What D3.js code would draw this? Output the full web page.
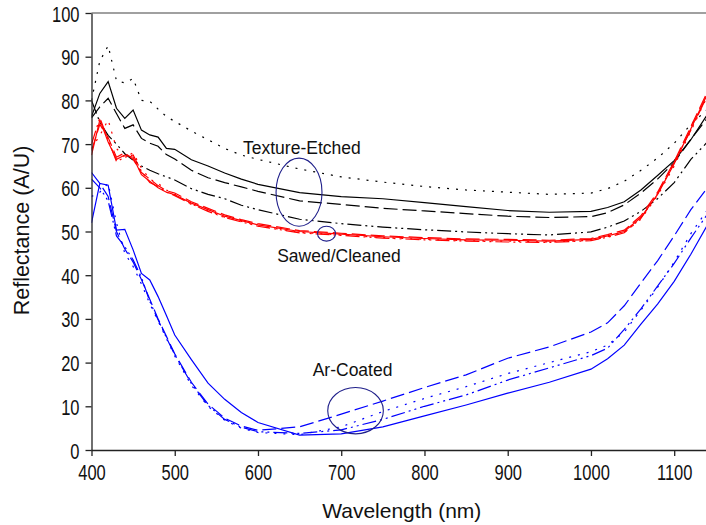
<!DOCTYPE html>
<html>
<head>
<meta charset="utf-8">
<script src="https://cdn.jsdelivr.net/npm/d3@7.9.0/dist/d3.min.js"></script>
<style>
  body { margin: 0; background: #fff; }
  svg { display: block; font-family: 'Liberation Sans', Arial, sans-serif; }
</style>
</head>
<body>
<svg id="chart" width="706" height="525"></svg>
<script>
// Wavelength samples (nm), shared by all series
const wavelengths = [400, 410, 420, 430, 440, 450, 460, 470, 480, 490, 500, 520, 540, 560, 580, 600,
  650, 700, 750, 800, 850, 900, 950, 1000, 1020, 1040, 1060, 1080, 1100, 1120, 1140];

// Texture-Etched (black)
const etchedSolid = [76.3, 81.6, 84.3, 78.2, 75.9, 77.8, 73.2, 72.1, 71.6, 69, 68.8, 66.4, 65, 63.4, 62, 60.8,
  58.9, 58, 57.5, 56.6, 55.7, 54.8, 54.4, 54.6, 55.5, 56.8, 59.5, 62.8, 66.2, 71, 76.8];
const etchedDash = [76, 78.5, 80.5, 77, 73.6, 74.4, 71.3, 70.2, 69.5, 67.6, 66.6, 64, 62.3, 61.2, 60.2, 59.2,
  57, 56.2, 55.3, 54.7, 54.1, 53.5, 53.2, 53.4, 54.3, 56.1, 58.8, 62, 65.8, 71.1, 76];
const etchedDot = [80, 89, 92.5, 84.5, 84, 85, 80, 79.8, 78, 76.3, 75.2, 73, 71, 69, 67.5, 66.5,
  64.3, 62.5, 61.3, 60.3, 59.5, 59, 58.5, 58.8, 59.8, 61.5, 64, 66.8, 70.2, 74.5, 78];
const etchedDashDot = [80, 75, 72, 70, 67.8, 66.3, 65, 64, 63.2, 62.5, 61.8, 59.8, 58.5, 57.5, 56, 55,
  52.8, 51.8, 51, 50.4, 49.9, 49.5, 49.2, 49.9, 51, 52.4, 54.6, 57.5, 61.2, 66.5, 70.5];

// Sawed/Cleaned (red)
const sawedSolid = [67.5, 75.5, 70.5, 66.5, 67.5, 67, 63, 61.5, 60, 59, 58.4, 56.5, 55, 53.5, 52.5, 51.5,
  50, 49.4, 48.8, 48.4, 48.1, 48, 47.8, 48.2, 49, 50, 53.2, 58.5, 65.5, 73.5, 81.5];
const sawedDash = [68.5, 74.5, 71.5, 67, 68, 66.5, 63.5, 62, 60.5, 59.3, 58.8, 56.8, 55.3, 53.8, 52.7, 51.8,
  50.2, 49.6, 49, 48.6, 48.3, 48.2, 48, 48.4, 49.3, 50.3, 53.6, 59, 66, 74, 82];
const sawedDot = [69, 72, 75.5, 69, 67, 68, 64.5, 62, 61, 59.5, 58.5, 56.2, 54.8, 53.3, 52.3, 51.3,
  49.8, 49.2, 48.6, 48.2, 47.9, 47.8, 47.6, 48, 48.8, 49.8, 52.8, 58.2, 65, 73, 81];
const sawedDashDot = [70, 76, 71, 66, 67, 67.5, 63.8, 61.2, 60.3, 59, 58.2, 56.3, 54.6, 53.2, 52.2, 51.2,
  49.7, 49.1, 48.5, 48.1, 47.8, 47.6, 47.5, 47.9, 48.7, 49.7, 53, 58.6, 65.8, 73.2, 81.2];

// Ar-Coated (blue)
const coatedSolid = [52, 61, 60.6, 50.3, 50.5, 45.8, 40.4, 38.9, 35.1, 30.8, 26.3, 20.7, 15.3, 11.6, 8.6, 6.3,
  3.4, 3.7, 5.3, 7.8, 10.3, 13, 15.5, 18.5, 20.9, 24, 28.8, 33.4, 38.6, 44.8, 51.5];
const coatedDash = [63.5, 61, 58, 50, 46, 43, 39, 34.5, 30, 26, 22, 15.5, 10.5, 7.3, 5.5, 4.5,
  5.3, 8.2, 11.2, 14.3, 17.2, 21, 23.6, 27, 29.1, 33, 38.2, 43.3, 49, 55, 60];
const coatedDot = [58, 59, 61, 52, 45, 42, 38, 33.5, 29.5, 25.5, 21.5, 14.8, 10, 6.8, 5, 4,
  3.5, 5.3, 8.8, 11.8, 14.5, 17.5, 20, 22.5, 24, 27, 32, 37.2, 43, 49.5, 55];
const coatedDashDot = [62, 60, 57, 49, 46.5, 43.5, 39.5, 34, 29.8, 25.7, 21.8, 15.2, 10.2, 7, 5.2, 4.2,
  3.8, 4.6, 7, 10, 12.6, 16, 18.8, 21.6, 23.3, 27.6, 32.3, 37.5, 42.7, 48.5, 54];

// Axis ticks
const xTicks = [400, 500, 600, 700, 800, 900, 1000, 1100];
const yTicks = [0, 10, 20, 30, 40, 50, 60, 70, 80, 90, 100];

// Group labels and the circles that mark them (data units)
const labels = [
  { text: 'Texture-Etched', x: 582, y: 67.7 },
  { text: 'Sawed/Cleaned', x: 623, y: 43.1 },
  { text: 'Ar-Coated', x: 665.7, y: 17.0 },
];
const rings = [
  { x: 649.3, y: 59.0, rx: 27.6, ry: 7.8 },
  { x: 682.3, y: 49.5, rx: 10.8, ry: 1.7 },
  { x: 717.2, y: 9.0, rx: 33.4, ry: 5.3 },
];

// line styles
const dashes = {
  solid: null,
  dash: '14,5',
  dot: '2,7',
  dashdot: '14,4,2,4,2,4',
};

const series = [
  { values: etchedDot, color: '#000', dash: 'dot' },
  { values: etchedSolid, color: '#000', dash: 'solid' },
  { values: etchedDash, color: '#000', dash: 'dash' },
  { values: etchedDashDot, color: '#000', dash: 'dashdot' },
  { values: sawedSolid, color: '#ff0000', dash: 'solid' },
  { values: sawedDash, color: '#ff0000', dash: 'dash' },
  { values: sawedDot, color: '#ff0000', dash: 'dot' },
  { values: sawedDashDot, color: '#ff0000', dash: 'dashdot' },
  { values: coatedSolid, color: '#0000ff', dash: 'solid' },
  { values: coatedDash, color: '#0000ff', dash: 'dash' },
  { values: coatedDot, color: '#0000ff', dash: 'dot' },
  { values: coatedDashDot, color: '#0000ff', dash: 'dashdot' },
];

const svg = d3.select('#chart');

const plotLeft = 91.5, plotRight = 707.5, plotTop = 13, plotBottom = 450;

const x = d3.scaleLinear().domain([400, 1140]).range([plotLeft, plotRight]);
const y = d3.scaleLinear().domain([0, 100]).range([plotBottom, plotTop]);

svg.append('defs').append('clipPath').attr('id', 'plot')
  .append('rect')
  .attr('x', plotLeft).attr('y', 0)
  .attr('width', 706 - plotLeft).attr('height', plotBottom);

// top frame line
svg.append('line')
  .attr('x1', plotLeft).attr('x2', 706)
  .attr('y1', plotTop).attr('y2', plotTop)
  .attr('stroke', '#808080').attr('stroke-width', 1.3);

// curves
const line = d3.line()
  .x((d, i) => x(wavelengths[i]))
  .y(d => y(d));

svg.append('g').attr('clip-path', 'url(#plot)')
  .selectAll('path')
  .data(series)
  .join('path')
  .attr('d', d => line(d.values))
  .attr('fill', 'none')
  .attr('stroke', d => d.color)
  .attr('stroke-width', 1.2)
  .attr('stroke-dasharray', d => dashes[d.dash]);

// rings around the groups
svg.append('g')
  .selectAll('ellipse')
  .data(rings)
  .join('ellipse')
  .attr('cx', d => x(d.x))
  .attr('cy', d => y(d.y))
  .attr('rx', d => x(400 + d.rx) - x(400))
  .attr('ry', d => y(0) - y(d.ry))
  .attr('fill', 'none')
  .attr('stroke', '#1f1f8a')
  .attr('stroke-width', 1.1);

svg.append('g')
  .selectAll('text')
  .data(labels)
  .join('text')
  .attr('x', d => x(d.x))
  .attr('y', d => y(d.y))
  .attr('font-size', 17.5)
  .attr('fill', '#111')
  .text(d => d.text);

// axes
const xAxis = svg.append('g')
  .attr('transform', `translate(0,${plotBottom})`)
  .call(d3.axisBottom(x).tickValues(xTicks).tickFormat(d3.format('d')).tickSize(6).tickSizeOuter(0));
xAxis.select('.domain').attr('d', `M${plotLeft},0.5H706`);

const yAxis = svg.append('g')
  .attr('transform', `translate(${plotLeft},0)`)
  .call(d3.axisLeft(y).tickValues(yTicks).tickSize(6).tickSizeOuter(0));

[xAxis, yAxis].forEach(g => {
  g.select('.domain').attr('stroke', '#222').attr('stroke-width', 1.3);
  g.selectAll('.tick line').attr('stroke', '#222').attr('stroke-width', 1.3);
  g.selectAll('.tick text')
    .attr('font-family', "'Liberation Sans', Arial, sans-serif")
    .attr('font-size', 16.5)
    .attr('fill', '#111')
    .attr('x', null).attr('y', null).attr('dy', null);
});

// tick labels in the source are tall and narrow
xAxis.selectAll('.tick text').attr('transform', 'translate(0,30) scale(1,1.38)');
yAxis.selectAll('.tick text').attr('transform', 'translate(-12,8) scale(1,1.38)');

// axis titles
svg.append('text')
  .attr('x', (plotLeft + 706) / 2 + 3)
  .attr('y', 518)
  .attr('text-anchor', 'middle')
  .attr('font-size', 21)
  .attr('fill', '#111')
  .text('Wavelength (nm)');

svg.append('text')
  .attr('transform', `translate(29,${(plotTop + plotBottom) / 2 - 1}) rotate(-90)`)
  .attr('text-anchor', 'middle')
  .attr('font-size', 21.5)
  .attr('fill', '#111')
  .text('Reflectance (A/U)');
</script>
</body>
</html>
